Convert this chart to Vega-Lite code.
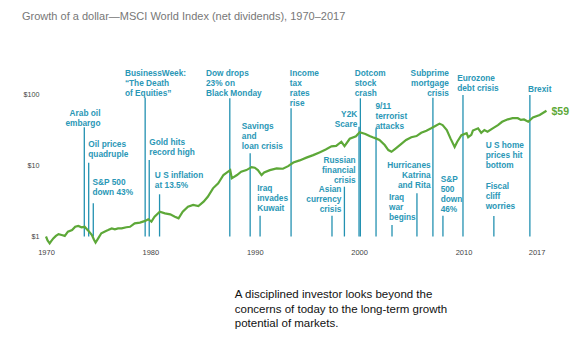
{
  "$schema": "https://vega.github.io/schema/vega-lite/v6.json",
  "width": 501,
  "height": 310,
  "autosize": {"type": "none"},
  "padding": {"left": 46, "top": 30, "right": 29, "bottom": 14},
  "background": "white",
  "config": {"view": {"stroke": null}, "font": "Liberation Sans"},
  "title": {
    "text": "Growth of a dollar—MSCI World Index (net dividends), 1970–2017",
    "anchor": "start", "dx": -1, "offset": 8, "fontSize": 11, "fontWeight": "normal",
    "color": "#777777", "font": "Liberation Sans"
  },
  "datasets": {
    "growth": [
      {"year": 1970.0, "value": 1.0}, {"year": 1970.15, "value": 0.88}, {"year": 1970.35, "value": 0.8},
      {"year": 1970.5, "value": 0.86}, {"year": 1970.7, "value": 0.94}, {"year": 1970.95, "value": 1.02},
      {"year": 1971.2, "value": 1.08}, {"year": 1971.5, "value": 1.05}, {"year": 1971.8, "value": 1.02},
      {"year": 1972.1, "value": 1.17}, {"year": 1972.5, "value": 1.23}, {"year": 1972.8, "value": 1.37},
      {"year": 1973.1, "value": 1.41}, {"year": 1973.4, "value": 1.35}, {"year": 1973.7, "value": 1.37},
      {"year": 1974.05, "value": 1.21}, {"year": 1974.4, "value": 1.05}, {"year": 1974.6, "value": 0.9},
      {"year": 1974.75, "value": 0.82}, {"year": 1975.0, "value": 0.94}, {"year": 1975.3, "value": 1.11},
      {"year": 1975.6, "value": 1.17}, {"year": 1975.95, "value": 1.23}, {"year": 1976.3, "value": 1.3},
      {"year": 1976.6, "value": 1.26}, {"year": 1976.9, "value": 1.3}, {"year": 1977.25, "value": 1.3},
      {"year": 1977.7, "value": 1.35}, {"year": 1978.05, "value": 1.37}, {"year": 1978.5, "value": 1.53},
      {"year": 1979.0, "value": 1.57}, {"year": 1979.5, "value": 1.66}, {"year": 1979.8, "value": 1.75},
      {"year": 1980.1, "value": 1.62}, {"year": 1980.4, "value": 1.9}, {"year": 1980.9, "value": 2.24},
      {"year": 1981.4, "value": 2.12}, {"year": 1981.9, "value": 2.05}, {"year": 1982.35, "value": 1.9},
      {"year": 1982.7, "value": 1.8}, {"year": 1983.1, "value": 2.24}, {"year": 1983.6, "value": 2.63},
      {"year": 1984.1, "value": 2.78}, {"year": 1984.6, "value": 2.69}, {"year": 1985.1, "value": 3.09},
      {"year": 1985.5, "value": 3.63}, {"year": 1986.0, "value": 4.77}, {"year": 1986.5, "value": 5.62},
      {"year": 1987.0, "value": 7.34}, {"year": 1987.35, "value": 8.0}, {"year": 1987.65, "value": 8.62},
      {"year": 1987.8, "value": 6.6}, {"year": 1988.3, "value": 7.34}, {"year": 1988.7, "value": 8.17},
      {"year": 1989.2, "value": 8.62}, {"year": 1989.7, "value": 9.5}, {"year": 1990.0, "value": 9.3},
      {"year": 1990.3, "value": 8.6}, {"year": 1990.65, "value": 7.34}, {"year": 1990.9, "value": 8.0},
      {"year": 1991.45, "value": 8.6}, {"year": 1992.1, "value": 9.1}, {"year": 1992.7, "value": 9.0},
      {"year": 1993.2, "value": 9.8}, {"year": 1993.7, "value": 11.0}, {"year": 1994.3, "value": 11.8},
      {"year": 1994.95, "value": 12.9}, {"year": 1995.6, "value": 14.0}, {"year": 1996.2, "value": 15.3},
      {"year": 1996.8, "value": 16.8}, {"year": 1997.35, "value": 18.6}, {"year": 1997.8, "value": 18.9},
      {"year": 1998.3, "value": 21.6}, {"year": 1998.6, "value": 18.8}, {"year": 1999.1, "value": 23.8},
      {"year": 1999.7, "value": 25.8}, {"year": 2000.05, "value": 29.5}, {"year": 2000.6, "value": 27.8},
      {"year": 2001.0, "value": 26.0}, {"year": 2001.3, "value": 25.0}, {"year": 2001.6, "value": 24.1},
      {"year": 2001.95, "value": 22.9}, {"year": 2002.45, "value": 19.4}, {"year": 2002.8, "value": 16.5},
      {"year": 2003.1, "value": 15.6}, {"year": 2003.4, "value": 16.9}, {"year": 2003.9, "value": 19.4},
      {"year": 2004.5, "value": 22.9}, {"year": 2005.0, "value": 25.0}, {"year": 2005.5, "value": 26.0},
      {"year": 2005.95, "value": 28.9}, {"year": 2006.45, "value": 30.9}, {"year": 2006.9, "value": 33.4},
      {"year": 2007.3, "value": 36.0}, {"year": 2007.7, "value": 38.9}, {"year": 2008.0, "value": 37.1},
      {"year": 2008.4, "value": 31.6}, {"year": 2008.75, "value": 24.1}, {"year": 2009.15, "value": 18.2},
      {"year": 2009.4, "value": 21.6}, {"year": 2009.8, "value": 26.8}, {"year": 2010.3, "value": 28.5},
      {"year": 2010.45, "value": 25.0}, {"year": 2010.75, "value": 27.0}, {"year": 2010.9, "value": 31.0},
      {"year": 2011.4, "value": 33.4}, {"year": 2011.7, "value": 28.9}, {"year": 2012.0, "value": 31.6},
      {"year": 2012.3, "value": 29.9}, {"year": 2012.8, "value": 33.4}, {"year": 2013.3, "value": 37.1},
      {"year": 2013.7, "value": 41.3}, {"year": 2014.25, "value": 44.7}, {"year": 2014.7, "value": 46.4},
      {"year": 2015.2, "value": 46.4}, {"year": 2015.5, "value": 43.8}, {"year": 2015.8, "value": 44.5},
      {"year": 2016.2, "value": 41.3}, {"year": 2016.65, "value": 47.6}, {"year": 2017.3, "value": 51.4},
      {"year": 2017.95, "value": 59.0}
    ],
    "events": [
      {"year": 1973.67, "value": 34.5}, {"year": 1974.09, "value": 10.95}, {"year": 1974.53, "value": 2.94},
      {"year": 1979.5, "value": 90.2}, {"year": 1979.89, "value": 11.95}, {"year": 1980.88, "value": 3.93},
      {"year": 1987.61, "value": 88.4}, {"year": 1989.56, "value": 14.85}, {"year": 1990.51, "value": 1.96},
      {"year": 1993.48, "value": 63.9}, {"year": 1997.4, "value": 1.96}, {"year": 1998.59, "value": 5.03},
      {"year": 1999.99, "value": 35.2}, {"year": 2000.12, "value": 88.4}, {"year": 2001.62, "value": 33.4},
      {"year": 2003.15, "value": 1.45}, {"year": 2005.54, "value": 4.06}, {"year": 2007.07, "value": 90.2},
      {"year": 2008.03, "value": 1.96}, {"year": 2009.95, "value": 98.4}, {"year": 2012.91, "value": 1.94},
      {"year": 2016.36, "value": 98.4}
    ],
    "notesLeft": [
      {"year": 1974.05, "value": 23.2, "label": "Oil prices\nquadruple"},
      {"year": 1974.45, "value": 6.67, "label": "S&P 500\ndown 43%"},
      {"year": 1977.56, "value": 231.6, "label": "BusinessWeek:\n“The Death\nof Equities”"},
      {"year": 1979.89, "value": 24.4, "label": "Gold hits\nrecord high"},
      {"year": 1980.43, "value": 8.28, "label": "U S inflation\nat 13.5%"},
      {"year": 1985.32, "value": 231.6, "label": "Dow drops\n23% on\nBlack Monday"},
      {"year": 1988.76, "value": 40.6, "label": "Savings\nand\nloan crisis"},
      {"year": 1990.23, "value": 5.49, "label": "Iraq\ninvades\nKuwait"},
      {"year": 1993.36, "value": 231.6, "label": "Income\ntax\nrates\nrise"},
      {"year": 1999.58, "value": 231.6, "label": "Dotcom\nstock\ncrash"},
      {"year": 2001.56, "value": 78.4, "label": "9/11\nterrorist\nattacks"},
      {"year": 2002.86, "value": 4.1, "label": "Iraq\nwar\nbegins"},
      {"year": 2007.81, "value": 7.44, "label": "S&P\n500\ndown\n46%"},
      {"year": 2009.39, "value": 197, "label": "Eurozone\ndebt crisis"},
      {"year": 2012.12, "value": 21.9, "label": "U S home\nprices hit\nbottom"},
      {"year": 2012.12, "value": 5.8, "label": "Fiscal\ncliff\nworries"},
      {"year": 2016.17, "value": 134.8, "label": "Brexit"}
    ],
    "notesRight": [
      {"year": 1975.22, "value": 62.5, "label": "Arab oil\nembargo"},
      {"year": 1998.3, "value": 5.26, "label": "Asian\ncurrency\ncrisis"},
      {"year": 1999.67, "value": 13.48, "label": "Russian\nfinancial\ncrisis"},
      {"year": 1999.82, "value": 61.3, "label": "Y2K\nScare"},
      {"year": 2006.85, "value": 11.46, "label": "Hurricanes\nKatrina\nand Rita"},
      {"year": 2008.6, "value": 231.6, "label": "Subprime\nmortgage\ncrisis"}
    ],
    "message": [
      {"year": 1988.09, "value": 0.1804, "label": "A disciplined investor looks beyond the\nconcerns of today to the long-term growth\npotential of markets."}
    ]
  },
  "encoding": {
    "x": {
      "field": "year", "type": "quantitative",
      "scale": {"domain": [1970, 2018], "nice": false, "zero": false},
      "axis": {
        "values": [1970, 1980, 1990, 2000, 2010, 2017], "format": "d", "title": null,
        "domain": false, "ticks": false, "grid": false, "labelPadding": 12, "offset": -103.5,
        "labelFontSize": 7.5, "labelColor": "#444444", "labelFont": "Liberation Sans",
        "labelFlush": false, "labelOverlap": false
      }
    },
    "y": {
      "field": "value", "type": "quantitative",
      "scale": {"type": "log", "domain": [0.03485, 810], "nice": false},
      "axis": {
        "values": [1, 10, 100], "labelExpr": "'$' + datum.value", "title": null,
        "domain": false, "ticks": false, "grid": false, "labelPadding": 7,
        "labelFontSize": 7.2, "labelColor": "#444444", "labelFont": "Liberation Sans"
      }
    }
  },
  "layer": [
    {
      "data": {"values": [{}]},
      "mark": {"type": "rule", "color": "#8a8a8a", "strokeWidth": 1},
      "encoding": {"x": {"datum": 1970}, "y": {"datum": 1}, "y2": {"datum": 100}}
    },
    {
      "data": {"values": [{}]},
      "mark": {"type": "rule", "color": "#8a8a8a", "strokeWidth": 1},
      "encoding": {"x": {"datum": 1970}, "x2": {"datum": 2018}, "y": {"datum": 1}}
    },
    {
      "data": {"name": "events"},
      "mark": {"type": "rule", "color": "#2391b1", "strokeWidth": 1.3},
      "encoding": {"y2": {"datum": 1}}
    },
    {
      "data": {"name": "growth"},
      "mark": {"type": "line", "color": "#5da838", "strokeWidth": 2.2}
    },
    {
      "data": {"name": "growth"},
      "transform": [{"filter": "datum.year > 2017.9"}],
      "mark": {"type": "text", "align": "left", "baseline": "middle", "dx": 5, "dy": 1, "fontSize": 10.5, "fontWeight": "bold", "color": "#5da838", "font": "Liberation Sans"},
      "encoding": {"text": {"field": "value", "type": "quantitative", "format": "$.0f"}}
    },
    {
      "data": {"name": "notesLeft"},
      "mark": {"type": "text", "align": "left", "baseline": "top", "lineBreak": "\n", "lineHeight": 10, "fontSize": 8.3, "fontWeight": "bold", "color": "#2a97b6", "font": "Liberation Sans"},
      "encoding": {"text": {"field": "label"}}
    },
    {
      "data": {"name": "notesRight"},
      "mark": {"type": "text", "align": "right", "baseline": "top", "lineBreak": "\n", "lineHeight": 10, "fontSize": 8.3, "fontWeight": "bold", "color": "#2a97b6", "font": "Liberation Sans"},
      "encoding": {"text": {"field": "label"}}
    },
    {
      "data": {"name": "message"},
      "mark": {"type": "text", "align": "left", "baseline": "top", "lineBreak": "\n", "lineHeight": 14.5, "fontSize": 11.5, "color": "#111111", "font": "Liberation Sans"},
      "encoding": {"text": {"field": "label"}}
    }
  ]
}
